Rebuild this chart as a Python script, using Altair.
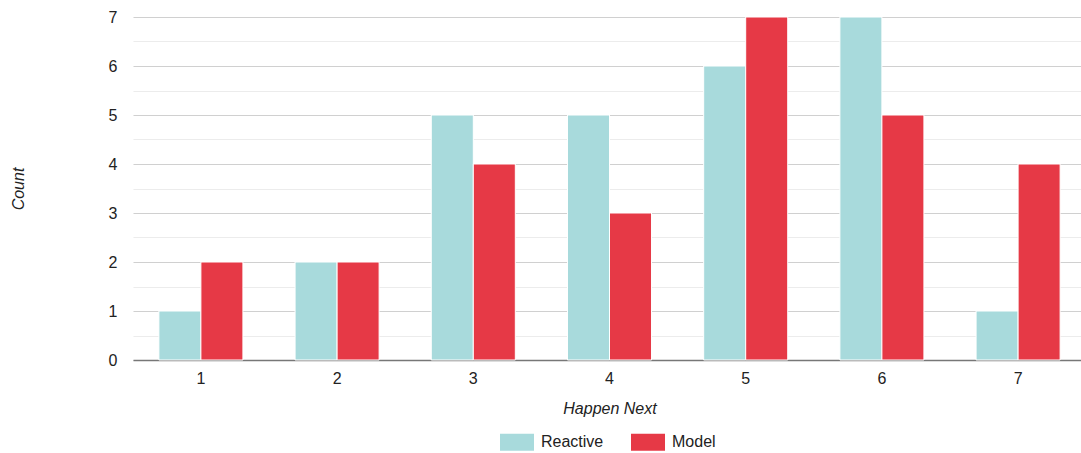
import altair as alt
import pandas as pd

categories = ["1", "2", "3", "4", "5", "6", "7"]
reactive = [1, 2, 5, 5, 6, 7, 1]
model = [2, 2, 4, 3, 7, 5, 4]
series_names = ["Reactive", "Model"]
series_colors = ["#a8dadc", "#e63946"]
y_ticks = [i / 2 for i in range(15)]

rows = []
for cat, r, m in zip(categories, reactive, model):
    rows.append({"group": cat, "series": "Reactive", "count": r})
    rows.append({"group": cat, "series": "Model", "count": m})
df = pd.DataFrame(rows)

font = "Liberation Sans"

chart = (
    alt.Chart(df)
    .mark_bar(stroke="white", strokeWidth=1)
    .encode(
        x=alt.X(
            "group:N",
            sort=categories,
            scale=alt.Scale(paddingInner=0.383, paddingOuter=0.19, range=[0, 953]),
            axis=alt.Axis(
                title="Happen Next",
                titleFontStyle="italic",
                titleFontWeight="normal",
                titleFontSize=16,
                titleColor="#222",
                titlePadding=14,
                labelAngle=0,
                labelFontSize=16,
                labelColor="#222",
                labelPadding=10,
                ticks=False,
                domainColor="#777",
                domainWidth=1.5,
            ),
        ),
        xOffset=alt.XOffset("series:N", sort=series_names),
        y=alt.Y(
            "count:Q",
            scale=alt.Scale(domain=[0, 7], nice=False),
            axis=alt.Axis(
                title="Count",
                titleFontStyle="italic",
                titleFontWeight="normal",
                titleFontSize=16,
                titleColor="#222",
                titlePadding=82,
                values=y_ticks,
                labelExpr="datum.value % 1 ? '' : format(datum.value, 'd')",
                labelFontSize=16,
                labelColor="#222",
                labelPadding=16,
                ticks=False,
                domain=False,
                grid=True,
                gridColor={
                    "condition": {"test": "datum.value % 1 !== 0", "value": "#ececec"},
                    "value": "#d0d0d0",
                },
                gridWidth=1.2,
            ),
        ),
        color=alt.Color(
            "series:N",
            sort=series_names,
            scale=alt.Scale(domain=series_names, range=series_colors),
            legend=alt.Legend(
                title=None,
                orient="none",
                direction="horizontal",
                legendX=367,
                legendY=408,
                symbolType="M-1,-0.5L1,-0.5L1,0.5L-1,0.5Z",
                symbolSize=1156,
                symbolStrokeWidth=0,
                symbolOpacity=1,
                labelFontSize=16,
                labelColor="#222",
                labelOffset=7,
                columnPadding=27,
            ),
        ),
    )
    .properties(
        width=948,
        height=343,
        autosize=alt.AutoSizeParams(type="none"),
        padding={"left": 133, "top": 17, "right": 0, "bottom": 93},
    )
    .configure(font=font)
    .configure_view(stroke=None)
)

chart.save("out.html", embed_options={"renderer": "svg", "actions": False})
